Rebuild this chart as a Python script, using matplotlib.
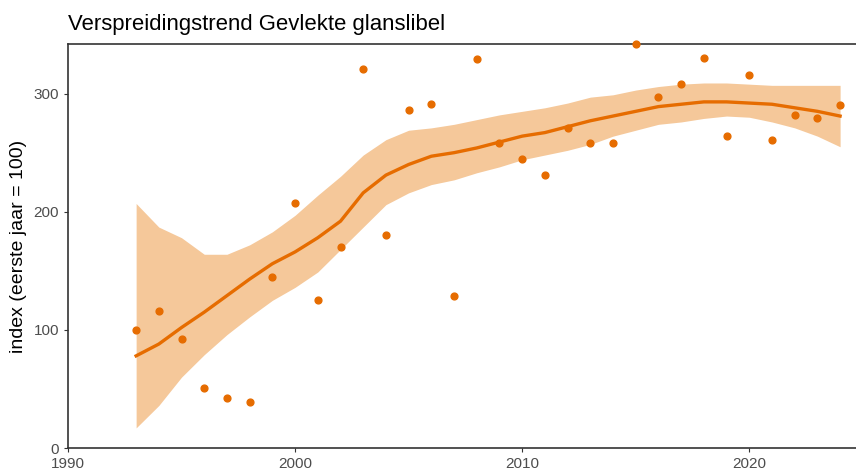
import matplotlib.pyplot as plt
import numpy as np

plt.rcParams['font.family'] = ['Liberation Sans', 'DejaVu Sans']

years = np.arange(1993, 2025)

index_obs = [100, 116, 92, 51, 42, 39, 145, 207, 125, 170, 321, 180, 286, 291, 129, 329,
             258, 245, 231, 271, 258, 258, 342, 297, 308, 330, 264, 316, 261, 282, 279, 290]

trend = [78, 88, 102, 115, 129, 143, 156, 166, 178, 192, 216, 231, 240, 247, 250, 254,
         259, 264, 267, 272, 277, 281, 285, 289, 291, 293, 293, 292, 291, 288, 285, 281]

upper = [207, 187, 178, 164, 164, 172, 183, 197, 214, 230, 248, 261, 269, 271, 274, 278,
         282, 285, 288, 292, 297, 299, 303, 306, 308, 309, 309, 308, 307, 307, 307, 307]

lower = [17, 36, 60, 79, 96, 111, 125, 136, 149, 168, 187, 206, 216, 223, 227, 233,
         238, 244, 248, 252, 257, 264, 269, 274, 276, 279, 281, 280, 276, 271, 264, 255]

orange = "#E66C00"
band = "#F5C89A"

fig = plt.figure(figsize=(8.56, 4.75), dpi=100)
ax = fig.add_axes([68 / 856, 27 / 475, 1 - 68 / 856, 404 / 475])

# betrouwbaarheidsband, trendlijn en jaarindex
ax.fill_between(years, lower, upper, color=band, linewidth=0)
ax.plot(years, trend, color=orange, linewidth=2.4)
ax.scatter(years, index_obs, color=orange, s=24, zorder=3, clip_on=False)

ax.set_xlim(1990, 2024.7)
ax.set_ylim(0, 342)
ax.set_xticks([1990, 2000, 2010, 2020])
ax.set_yticks([0, 100, 200, 300])

for side in ["left", "bottom", "top"]:
    ax.spines[side].set_color("#333333")
    ax.spines[side].set_linewidth(1.2)
ax.spines["right"].set_visible(False)

ax.tick_params(axis="both", colors="#333333", labelcolor="#4D4D4D", labelsize=11, length=3)
ax.set_ylabel("index (eerste jaar = 100)", fontsize=14, color="black")
ax.yaxis.set_label_coords(-0.052, 0.5)
ax.set_title("Verspreidingstrend Gevlekte glanslibel", loc="left", fontsize=15.9, pad=10)

fig.savefig("out.png", dpi=100)
